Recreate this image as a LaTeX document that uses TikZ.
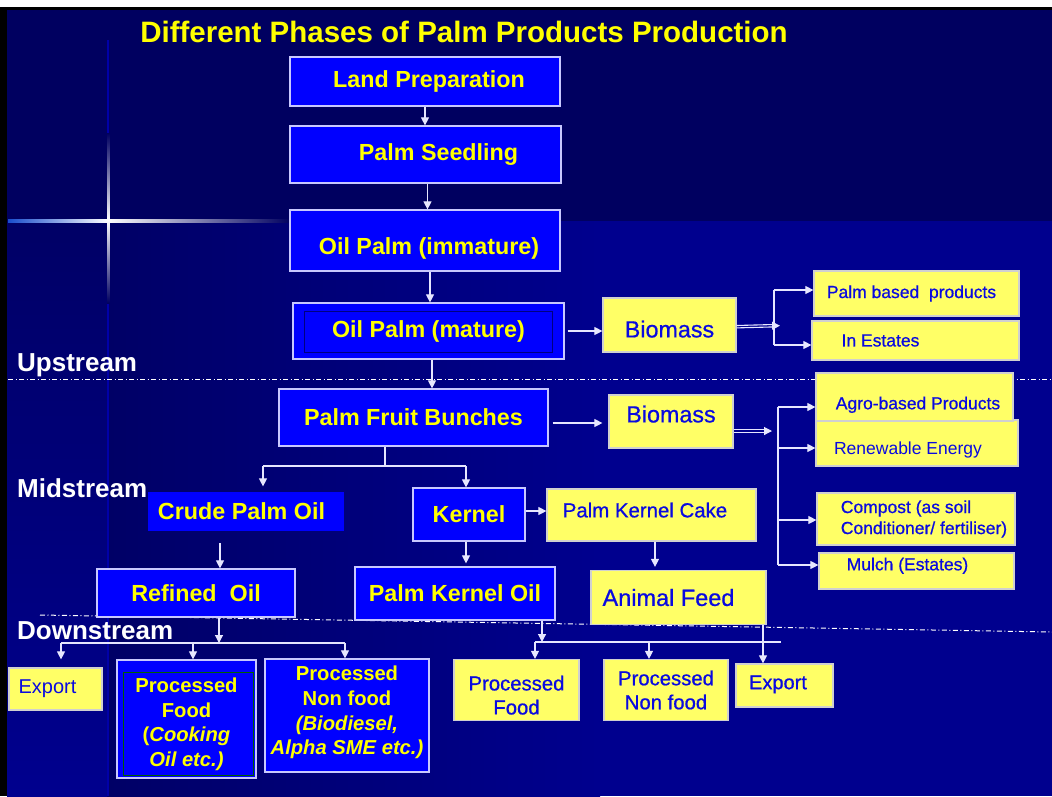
\documentclass[tikz,border=0pt]{standalone}
\usepackage{fontspec}
\setmainfont{Liberation Sans}
\newfontfamily\yfont{Liberation Sans}[BoldFont=Liberation Sans, BoldFeatures={FakeBold=0.7}]
\usetikzlibrary{arrows.meta,calc}
\definecolor{navytop}{HTML}{000060}
\definecolor{navylow}{HTML}{00008E}
\definecolor{navymid}{HTML}{000066}
\definecolor{boxblue}{HTML}{0000FF}
\definecolor{boxedge}{HTML}{C8C8FF}
\definecolor{yfill}{HTML}{FFFF66}
\definecolor{yedge}{HTML}{D0D0D0}
\definecolor{tblue}{HTML}{0A0AE0}
\definecolor{ytext}{HTML}{FFFF00}
\definecolor{linec}{HTML}{E6E6FF}
\definecolor{faint}{HTML}{0000A8}
\definecolor{glow}{HTML}{2060FF}
\definecolor{innernavy}{HTML}{000080}
\definecolor{innergreen}{HTML}{006000}
\begin{document}
\begin{tikzpicture}[x=1pt,y=-1pt,
  bbox/.style={rectangle, fill=boxblue, draw=boxedge, line width=1.2pt, text=ytext, inner sep=0pt, font=\bfseries\fontsize{23.3}{28}\selectfont},
  ybox/.style={rectangle, fill=yfill, draw=yedge, line width=1.2pt, text=tblue, inner sep=0pt, font=\yfont\bfseries\fontsize{17.5}{21}\selectfont},
  yplain/.style={font=\fontsize{17.5}{21}\selectfont},
  conn/.style={draw=linec, line width=1.1pt},
  arr/.style={conn, -{Triangle[length=8pt,width=8pt]}},
  dashdot/.style={draw=white, line width=1pt, dash pattern=on 5pt off 2.5pt on 1pt off 2.5pt},
  lbl/.style={text=white, font=\bfseries\fontsize{26}{30}\selectfont, inner sep=0pt, anchor=base west}
]
\useasboundingbox (0,0) rectangle (1052,796);
% background
\fill[white] (0,0) rectangle (1052,796);
\fill[black] (0,7) rectangle (1052,796);
\fill[navytop] (7,10) rectangle (1052,221);
\shade[left color=navymid, right color=navylow] (107,221) rectangle (600,796);
\fill[navylow] (600,221) rectangle (1052,796);
\shade[top color=navymid, bottom color=navylow] (7,221) rectangle (107,796);
% sparkle
\draw[faint, line width=1.2pt] (108,40) -- (108,796);
\draw[faint, line width=1.2pt] (8,220.5) -- (430,220.5);
\shade[left color=glow!80!black, middle color=glow, right color=white] (8,219) rectangle (108,222);
\shade[left color=white, middle color=glow, right color=navytop] (108,219) rectangle (290,222);
\shade[top color=navytop, middle color=glow, bottom color=white] (107,133) rectangle (109.5,220);
\shade[top color=white, middle color=glow, bottom color=navytop] (107,220) rectangle (109.5,303);
% dash-dot separators
\draw[dashdot] (8,379) -- (1052,379);
\draw[dashdot] (40,615) -- (1052,632);

% title and stage labels
\node[text=ytext, font=\bfseries\fontsize{29.5}{34}\selectfont, inner sep=0pt, anchor=base] (title) at (464,42.5) {Different Phases of Palm Products Production};
\node[lbl] (up) at (17,371) {Upstream};
\node[lbl] (mid) at (17,497) {Midstream};
\node[lbl] (down) at (17,639) {Downstream};

% blue boxes
\node[bbox, minimum width=270pt, minimum height=49pt] (lp) at (425,81.5) {\hspace*{8pt}Land Preparation};
\node[bbox, minimum width=271pt, minimum height=57pt] (ps) at (425.5,154.5) {\hspace*{26pt}Palm Seedling};
\node[bbox, minimum width=270pt, minimum height=61pt, text height=33.8pt, text depth=5.9pt] (opi) at (425,240.5) {\hspace*{8pt}Oil Palm (immature)};
\node[bbox, minimum width=271pt, minimum height=56pt] (opm) at (428.5,331) {Oil Palm (mature)};
\draw[innernavy, line width=1pt] ([xshift=12pt,yshift=-9pt]opm.north west) rectangle ([xshift=-12pt,yshift=7pt]opm.south east);
\node[bbox, minimum width=269pt, minimum height=57pt] (pfb) at (413.5,417.5) {Palm Fruit Bunches};
\node[bbox, draw=none, minimum width=196pt, minimum height=39pt] (cpo) at (245.5,511.5) {Crude Palm Oil\hspace*{8pt}};
\node[bbox, minimum width=112pt, minimum height=53pt] (ker) at (469,514.5) {Kernel};
\node[bbox, minimum width=198pt, minimum height=48pt] (ref) at (196,593) {Refined\ \ Oil};
\node[bbox, minimum width=200pt, minimum height=53pt] (pko) at (455,593.5) {Palm Kernel Oil};
\node[bbox, minimum width=139pt, minimum height=118pt, align=center, font=\bfseries\fontsize{20.2}{24.7}\selectfont] (pf) at (186.5,719) {\rule{0pt}{25pt}Processed\\Food\\(\textit{Cooking}\\\textit{Oil etc.)}};
\draw[innergreen, line width=1pt] ([xshift=7pt,yshift=-13pt]pf.north west) rectangle ([xshift=-3pt,yshift=3pt]pf.south east);
\node[bbox, minimum width=164pt, minimum height=113pt, align=center, font=\bfseries\fontsize{20.2}{24.7}\selectfont] (pnf) at (347,715.5) {Processed\\Non food\\\textit{(Biodiesel,}\\\textit{Alpha SME etc.)}\rule[-10pt]{0pt}{10pt}};

% yellow boxes
\node[ybox, minimum width=133pt, minimum height=54pt, font=\yfont\bfseries\fontsize{23.3}{28}\selectfont, text height=30.6pt, text depth=5.8pt] (bio1) at (669.5,325) {Biomass};
\node[ybox, minimum width=205pt, minimum height=45pt] (pbp) at (916.5,293.5) {Palm based\ \ products\hspace*{10pt}};
\node[ybox, minimum width=207pt, minimum height=39pt] (ine) at (915.5,340.5) {In Estates\hspace*{70pt}};
\node[ybox, minimum width=124pt, minimum height=53pt, font=\yfont\bfseries\fontsize{23.3}{28}\selectfont, text height=17.5pt, text depth=15.7pt] (bio2) at (671,421.5) {Biomass};
\node[ybox, yplain, minimum width=202pt, minimum height=46pt, text height=27pt, text depth=4.4pt] (ren) at (917,443) {Renewable Energy\hspace*{18pt}};
\node[ybox, minimum width=197pt, minimum height=48pt, text height=29pt, text depth=4.4pt] (agro) at (914.5,397) {\hspace*{7pt}Agro-based Products};
\node[ybox, minimum width=198pt, minimum height=52pt, align=left] (comp) at (916,519) {\hspace*{16pt}Compost (as soil\\\hspace*{16pt}Conditioner/ fertiliser)};
\node[ybox, minimum width=195pt, minimum height=36pt, text height=13.1pt, text depth=14.5pt] (mulch) at (916.5,571) {Mulch (Estates)\hspace*{18pt}};
\node[ybox, minimum width=209pt, minimum height=52pt, font=\yfont\bfseries\fontsize{20.4}{24}\selectfont, text height=15.3pt, text depth=10.6pt] (pkc) at (651.5,515) {Palm Kernel Cake\hspace*{13pt}};
\node[ybox, minimum width=175pt, minimum height=54pt, font=\yfont\bfseries\fontsize{23.5}{28}\selectfont] (af) at (678.5,597.5) {Animal Feed\hspace*{20pt}};
\node[ybox, minimum width=93pt, minimum height=42pt, font=\fontsize{20}{24}\selectfont] (exl) at (55.5,689) {Export\hspace*{16pt}};
\node[ybox, minimum width=125pt, minimum height=61pt, align=center, font=\yfont\bfseries\fontsize{20.3}{24}\selectfont] (pfy) at (516.5,690) {\rule{0pt}{25pt}Processed\\Food};
\node[ybox, minimum width=124pt, minimum height=61pt, align=center, font=\yfont\bfseries\fontsize{20.3}{24}\selectfont] (pnfy) at (666,690) {Processed\\Non food};
\node[ybox, minimum width=97pt, minimum height=43pt, font=\yfont\bfseries\fontsize{20}{24}\selectfont, text height=15pt, text depth=7.6pt] (exr) at (784.5,685.5) {Export\hspace*{13pt}};

% junction coordinates
\coordinate (j1) at (780,325.7);
\coordinate (b1top) at (774,290);
\coordinate (b1bot) at (774,345);
\coordinate (b2in) at (772,431);
\coordinate (b2a) at (778,407);
\coordinate (b2b) at (778,448);
\coordinate (b2c) at (778,520);
\coordinate (b2d) at (778,565);
\coordinate (jpf) at (385,466);
\coordinate (jc) at (263,466);
\coordinate (jk) at (466,466);
\coordinate (cx) at (220,543);
\coordinate (jr) at (219,643);
\coordinate (jr1) at (61,643);
\coordinate (jr2) at (193,643);
\coordinate (jr3) at (345,643);
\coordinate (jp) at (542,642);
\coordinate (jp1) at (535,642);
\coordinate (jp2) at (649,642);
\coordinate (jp3) at (781,642);
\coordinate (xe) at (763,630);

% upstream chain
\draw[arr] (lp.south) -- (lp.south |- ps.north);
\draw[arr] ([xshift=2pt]ps.south) -- ([xshift=2pt]ps.south |- opi.north);
\draw[arr] ([xshift=5pt]opi.south) -- ([xshift=5pt]opi.south |- opm.north);
\draw[arr] ([xshift=3.5pt]opm.south) -- ([xshift=3.5pt]opm.south |- pfb.north);
\draw[arr, shorten <=3pt] (opm.east) -- (opm.east -| bio1.west);
% biomass 1 split
\draw[conn] ([yshift=-0.5pt]bio1.east) -- ([yshift=1.2pt, xshift=-6pt]j1);
\draw[conn] ([yshift=-2.9pt]bio1.east) -- ([yshift=-1.2pt, xshift=-6pt]j1);
\draw[arr] ([xshift=-8pt]j1) -- (j1);
\draw[conn] (b1top) -- (b1bot);
\draw[arr] (b1top) -- (b1top -| pbp.west);
\draw[arr] (b1bot) -- (b1bot -| ine.west);
% biomass 2 split
\draw[arr, shorten <=4pt, shorten >=6pt] ([yshift=-5.5pt]pfb.east) -- ([yshift=-5.5pt]pfb.east -| bio2.west);
\draw[conn] ([yshift=-8.3pt]bio2.east) -- ([yshift=1.2pt, xshift=-6pt]b2in);
\draw[conn] ([yshift=-10.7pt]bio2.east) -- ([yshift=-1.2pt, xshift=-6pt]b2in);
\draw[arr] ([xshift=-8pt]b2in) -- (b2in);
\draw[conn] (b2a) -- (b2d);
\draw[arr] (b2a) -- (b2a -| agro.west);
\draw[arr] (b2b) -- (b2b -| ren.west);
\draw[arr] (b2c) -- (b2c -| comp.west);
\draw[arr] (b2d) -- (b2d -| mulch.west);
% midstream
\draw[conn] (pfb.south -| jpf) -- (jpf);
\draw[conn] (jc) -- (jk);
\draw[arr, shorten >=5pt] (jc) -- (jc |- cpo.north);
\draw[arr] (jk) -- (jk |- ker.north);
\draw[arr] (cx) -- (cx |- ref.north);
\draw[arr, shorten >=3pt] ([xshift=-3pt]ker.south) -- ([xshift=-3pt]ker.south |- pko.north);
\draw[arr] ([yshift=3.5pt]ker.east) -- ([yshift=3.5pt]ker.east -| pkc.west);
\draw[arr, shorten >=3pt] ([xshift=3.5pt]pkc.south) -- ([xshift=3.5pt]pkc.south |- af.north);
% downstream left
\draw[arr] (ref.south -| jr) -- (jr);
\draw[conn] (jr1) -- (jr3);
\draw[arr, shorten >=8pt] (jr1) -- (jr1 |- exl.north);
\draw[arr] (jr2) -- (jr2 |- pf.north);
\draw[arr] (jr3) -- (jr3 |- pnf.north);
% downstream right
\draw[arr] (pko.south -| jp) -- (jp);
\draw[conn] (jp1) -- (jp3);
\draw[arr] (jp1) -- (jp1 |- pfy.north);
\draw[arr] (jp2) -- (jp2 |- pnfy.north);
\draw[arr] (af.south -| xe) -- (xe |- exr.north);
\end{tikzpicture}
\end{document}
